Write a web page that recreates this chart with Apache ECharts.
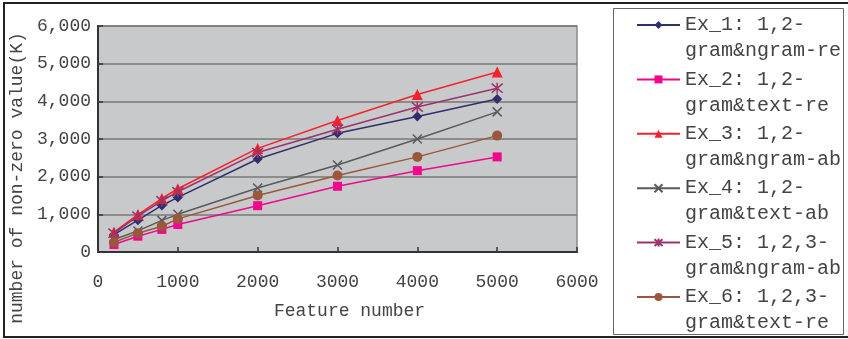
<!DOCTYPE html>
<html><head><meta charset="utf-8">
<script src="https://cdn.jsdelivr.net/npm/echarts@6/dist/echarts.min.js"></script>
<style>html,body{margin:0;padding:0;background:#fff}#c{width:848px;height:339px}</style>
</head><body><div id="c"></div>
<script>
const features = [200, 500, 800, 1000, 2000, 3000, 4000, 5000];
const ex1 = [460, 845, 1235, 1450, 2470, 3150, 3600, 4060];
const ex2 = [200, 420, 600, 730, 1230, 1745, 2160, 2525];
const ex3 = [525, 995, 1420, 1680, 2750, 3490, 4180, 4780];
const ex4 = [330, 560, 840, 1000, 1700, 2310, 3000, 3720];
const ex5 = [500, 950, 1360, 1600, 2640, 3260, 3850, 4350];
const ex6 = [260, 500, 685, 880, 1500, 2030, 2525, 3090];
const names = ['Ex_1: 1,2-\ngram&ngram-re','Ex_2: 1,2-\ngram&text-re','Ex_3: 1,2-\ngram&ngram-ab','Ex_4: 1,2-\ngram&text-ab','Ex_5: 1,2,3-\ngram&ngram-ab','Ex_6: 1,2,3-\ngram&text-re'];
const xTicks = [0, 1000, 2000, 3000, 4000, 5000, 6000];
const yTicks = [0, 1000, 2000, 3000, 4000, 5000, 6000];

const FONT = 'Liberation Mono';
const TXT = '#444';
const colors = ['#2f2f6b', '#f0078c', '#f5222d', '#5a5a5a', '#9b3468', '#9a573b'];
const symbols = ['diamond', 'rect', 'triangle', 'path://M0,0L10,10M10,0L0,10', 'path://M0,0L10,10M10,0L0,10M5,-1L5,11', 'circle'];
const sizes = [10, 9, 11, 9, 11, 10];
const allData = [ex1, ex2, ex3, ex4, ex5, ex6];

const series = allData.map((d, i) => {
  const stroked = i === 3 || i === 4;
  return {
    name: names[i], type: 'line',
    data: features.map((f, j) => [f, d[j]]),
    symbol: symbols[i], symbolSize: sizes[i],
    lineStyle: {color: colors[i], width: 1.5},
    itemStyle: stroked ? {color: colors[i], borderColor: colors[i], borderWidth: 1.5} : {color: colors[i], borderWidth: 0},
    emphasis: {disabled: true},
    animation: false
  };
});

const chart = echarts.init(document.getElementById('c'), null, {renderer: 'canvas'});
chart.setOption({
  backgroundColor: '#fff',
  animation: false,
  textStyle: {fontFamily: FONT},
  grid: {left: 98, right: 271, top: 26, bottom: 87, show: true, backgroundColor: '#c8c9cb', borderColor: '#8a8a8a', borderWidth: 1.5},
  xAxis: {
    type: 'value', min: xTicks[0], max: xTicks[xTicks.length - 1], interval: 1000,
    name: 'Feature number', nameLocation: 'middle', nameGap: 50,
    nameTextStyle: {fontFamily: FONT, fontSize: 18, color: TXT, padding: [0, 0, 0, 24]},
    axisLine: {show: true, lineStyle: {color: '#333', width: 2}},
    axisTick: {show: true, inside: true, length: 5, lineStyle: {color: '#333', width: 1.5}},
    axisLabel: {fontFamily: FONT, fontSize: 18, color: TXT, margin: 21, formatter: v => String(v)},
    splitLine: {show: false}
  },
  yAxis: {
    type: 'value', min: yTicks[0], max: yTicks[yTicks.length - 1], interval: 1000,
    name: 'number of non-zero value(K)', nameLocation: 'middle', nameGap: 69, nameRotate: 90,
    nameTextStyle: {fontFamily: FONT, fontSize: 18, color: TXT, padding: [0, 78, 0, 0]},
    axisLine: {show: true, lineStyle: {color: '#333', width: 2}},
    axisTick: {show: true, inside: true, length: 5, lineStyle: {color: '#333', width: 1.5}},
    axisLabel: {fontFamily: FONT, fontSize: 18, color: TXT, margin: 7,
      formatter: v => v.toLocaleString('en-US')},
    splitLine: {show: true, lineStyle: {color: '#777', width: 1.5}}
  },
  legend: {
    orient: 'vertical', left: 636, top: -14, height: 380, itemGap: -23.6,
    itemWidth: 43, itemHeight: 10, padding: 0,
    data: names,
    formatter: n => '\n' + n,
    textStyle: {fontFamily: FONT, fontSize: 20, lineHeight: 26, color: TXT}
  },
  graphic: [
    {type: 'rect', shape: {x: 4, y: 3, width: 850, height: 334}, style: {fill: 'none', stroke: '#222', lineWidth: 2}, silent: true},
    {type: 'rect', shape: {x: 613.5, y: 8.5, width: 230, height: 326}, style: {fill: 'none', stroke: '#666', lineWidth: 1}, silent: true}
  ],
  series: series
});
</script></body></html>
